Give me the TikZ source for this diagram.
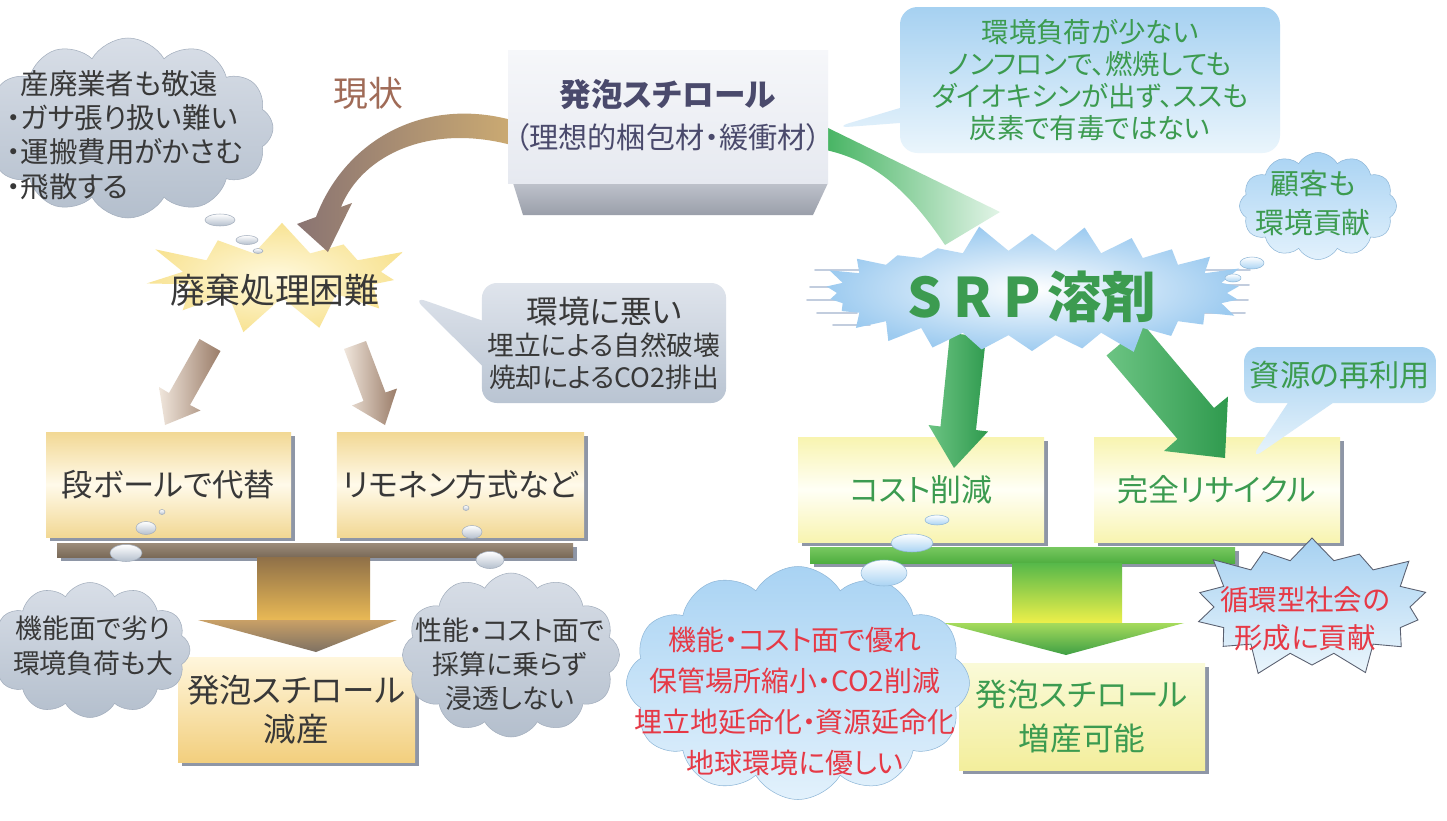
\documentclass[tikz,border=0pt]{standalone}
\usepackage{fontspec}
\setmainfont{Noto Sans CJK JP}[RawFeature=+palt]
\usetikzlibrary{shapes.symbols,shapes.callouts,shadows}

\definecolor{txtgray}{HTML}{383838}
\definecolor{txtbrown}{HTML}{A06B57}
\definecolor{txtslate}{HTML}{4A4A6C}
\definecolor{txtgreen}{HTML}{3C9B50}
\definecolor{txtred}{HTML}{E63946}
\definecolor{boxshadow}{HTML}{8E96A6}
\definecolor{goldA}{HTML}{F2D894}
\definecolor{goldB}{HTML}{FFFAEA}
\definecolor{paleA}{HTML}{F8F4B0}
\definecolor{paleB}{HTML}{FFFFF6}
\definecolor{outA}{HTML}{FFF6DC}
\definecolor{outB}{HTML}{F2CF7E}
\definecolor{limeA}{HTML}{FAFAD8}
\definecolor{limeB}{HTML}{F3EE9C}
\definecolor{barbrownA}{HTML}{9C8C7A}
\definecolor{barbrownB}{HTML}{7A6A58}
\definecolor{stembrownA}{HTML}{8F7048}
\definecolor{stembrownB}{HTML}{E9B955}
\definecolor{headbrownA}{HTML}{C9A066}
\definecolor{headbrownB}{HTML}{7E7163}
\definecolor{bargreenA}{HTML}{78C860}
\definecolor{bargreenB}{HTML}{4FAE40}
\definecolor{stemgreenA}{HTML}{56B84A}
\definecolor{stemgreenB}{HTML}{EEF04A}
\definecolor{headgreenA}{HTML}{A6DB5C}
\definecolor{headgreenB}{HTML}{3E9F44}
\definecolor{cloudgrayA}{HTML}{D8DEE7}
\definecolor{cloudgrayB}{HTML}{B4BFCD}
\definecolor{cloudgrayE}{HTML}{A3AEBD}
\definecolor{cloudblueA}{HTML}{A9D3F3}
\definecolor{cloudblueB}{HTML}{E2F1FC}
\definecolor{cloudblueE}{HTML}{8FB7D8}
\definecolor{callgrayA}{HTML}{DFE4EC}
\definecolor{callgrayB}{HTML}{B9C4D2}
\definecolor{callblueA}{HTML}{A6D1F1}
\definecolor{callblueB}{HTML}{EAF5FC}
\definecolor{staryellowA}{HTML}{FFF9DE}
\definecolor{staryellowB}{HTML}{F8E394}
\definecolor{starblueB}{HTML}{9DCBF0}
\definecolor{streakblue}{HTML}{C2CDDE}
\definecolor{staredge}{HTML}{5A6070}
\definecolor{faceA}{HTML}{F6F7FA}
\definecolor{faceB}{HTML}{E6E9F0}
\definecolor{sideA}{HTML}{BEC2CB}
\definecolor{sideB}{HTML}{9A9FAA}
\definecolor{curvebrownA}{HTML}{8A7472}
\definecolor{curvebrownB}{HTML}{CCAB72}
\definecolor{curvegreenA}{HTML}{47B463}
\definecolor{curvegreenB}{HTML}{E2F4E7}
\definecolor{arrbrownA}{HTML}{F0E6DC}
\definecolor{arrbrownB}{HTML}{9A7C68}
\definecolor{arrgreenA}{HTML}{6CC483}
\definecolor{arrgreenB}{HTML}{2F9A4E}

\tikzset{
  shadowed/.style={drop shadow={shadow xshift=0.07cm, shadow yshift=-0.07cm, fill=boxshadow, opacity=1}},
  goldbox/.style={rectangle, minimum width=4.9cm, minimum height=2.1cm, top color=goldA, bottom color=goldA, middle color=goldB, shadowed, text=txtgray, font=\fontsize{17.8pt}{21pt}\selectfont},
  palebox/.style={rectangle, minimum width=4.92cm, minimum height=2.1cm, top color=paleA, bottom color=paleA, middle color=paleB, shadowed, text=txtgreen, font=\fontsize{17.6pt}{21pt}\selectfont},
  graycloud/.style={cloud, cloud puffs=12, cloud puff arc=120, cloud ignores aspect, top color=cloudgrayA, bottom color=cloudgrayB, draw=cloudgrayE, line width=0.3pt},
  bluecloud/.style={cloud, cloud puffs=12, cloud puff arc=120, cloud ignores aspect, top color=cloudblueA, bottom color=cloudblueB, draw=cloudblueE, line width=0.3pt},
  graybubble/.style={top color=white, bottom color=cloudgrayB, draw=cloudgrayE, line width=0.3pt},
  bluebubble/.style={top color=white, bottom color=cloudblueA, draw=cloudblueE, line width=0.3pt},
  streak/.style={draw=streakblue, line width=1.1pt, line cap=round}
}

\begin{document}
\begin{tikzpicture}
% Frame:
\useasboundingbox (0,0) rectangle (28.94,-16.42);
\fill[white] (0,0) rectangle (28.94,-16.42);

% Left side, arrows under the star:
\shade[left color=arrbrownA, right color=arrbrownB] (4.41,-7.02) -- (3.8,-8.1) -- (4.01,-8.21) -- (3.3,-8.5) -- (3.18,-7.74) -- (3.38,-7.86) -- (3.99,-6.78) -- cycle;
\shade[left color=arrbrownA, right color=arrbrownB] (7.32,-6.82) -- (7.71,-7.85) -- (7.94,-7.77) -- (7.7,-8.5) -- (7.04,-8.11) -- (7.27,-8.02) -- (6.88,-6.98) -- cycle;
\node[starburst, starburst points=11, starburst point height=0.9cm, random starburst=41, minimum width=5.8cm, minimum height=2.7cm, inner color=staryellowA, outer color=staryellowB] (hardstar) at (5.64,-5.5) {};

% Curved arrows out of the block:
\shade[left color=curvebrownA, right color=curvebrownB] (10.3,-2.42) .. controls (8.5,-1.9) and (6.9,-2.8) .. (6.32,-4.34) -- (5.94,-4.48) -- (6.56,-5.04) -- (7.04,-4.06) -- (6.82,-4.14) .. controls (7.24,-3.1) and (8.6,-2.44) .. (10.3,-2.92) -- cycle;
\shade[left color=curvegreenA, right color=curvegreenB] (16.52,-2.54) -- (20.0,-4.24) -- (18.9,-4.9) .. controls (18.1,-3.7) and (17.4,-3.2) .. (16.52,-3.0) -- cycle;

% The block:
\shade[top color=sideA, bottom color=sideB] (10.26,-3.66) -- (16.56,-3.66) -- (16.26,-4.3) -- (10.46,-4.3) -- cycle;
\node[rectangle, minimum width=6.4cm, minimum height=2.66cm, top color=faceA, bottom color=faceB] (block) at (13.36,-2.33) {};
\node[text=txtslate, font=\bfseries\fontsize{18pt}{21pt}\selectfont] (blocktitle) at (13.36,-1.9) {発泡スチロール};
\node[text=txtslate, font=\fontsize{16.6pt}{19pt}\selectfont] (blocksub) at (13.36,-2.74) {（理想的梱包材・緩衝材）};
\node[text=txtbrown, font=\fontsize{19.8pt}{23pt}\selectfont] (now) at (7.36,-1.86) {現状};

% Left boxes and T arrow:
\node[goldbox] (cardboard) at (3.37,-9.69) {段ボールで代替};
\node[goldbox] (limonene) at (9.21,-9.69) {リモネン方式など};
\shade[shadowed, top color=barbrownA, bottom color=barbrownB] (1.14,-10.86) rectangle (11.46,-11.14);
\shade[top color=stembrownA, bottom color=stembrownB] (5.14,-11.14) rectangle (7.4,-12.4);
\shade[top color=headbrownA, bottom color=headbrownB] (3.96,-12.4) -- (7.94,-12.4) -- (6.32,-13.04) -- cycle;
\node[rectangle, minimum width=4.74cm, minimum height=2.1cm, top color=outA, bottom color=outB, shadowed, align=center, text=txtgray, font=\fontsize{18.5pt}{22pt}\selectfont] (reduce) at (5.93,-14.19) {発泡スチロール\\減産};

% Right boxes and T arrow:
\node[palebox] (cost) at (18.42,-9.79) {コスト削減};
\node[palebox] (recycle) at (24.34,-9.79) {完全リサイクル};
\shade[shadowed, top color=bargreenA, bottom color=bargreenB] (16.2,-10.94) rectangle (24.7,-11.26);
\shade[top color=stemgreenA, bottom color=stemgreenB] (20.24,-11.26) rectangle (22.44,-12.46);
\shade[top color=headgreenA, bottom color=headgreenB] (18.86,-12.46) -- (23.68,-12.46) -- (21.32,-13.1) -- cycle;
\node[rectangle, minimum width=4.92cm, minimum height=2.14cm, top color=limeA, bottom color=limeB, shadowed, align=center, text=txtgreen, font=\fontsize{18pt}{25pt}\selectfont] (increase) at (21.64,-14.33) {発泡スチロール\\増産可能};

% Green arrows under the solvent:
\shade[left color=arrgreenA, right color=arrgreenB] (19.72,-6.74) -- (19.52,-8.6) -- (19.76,-8.63) -- (19.08,-9.36) -- (18.57,-8.5) -- (18.81,-8.53) -- (19.0,-6.66) -- cycle;
\shade[left color=arrgreenA, right color=arrgreenB] (22.87,-6.49) -- (24.28,-8.16) -- (24.56,-7.93) -- (24.5,-9.16) -- (23.28,-9.02) -- (23.55,-8.78) -- (22.13,-7.11) -- cycle;
\draw[streak] (16.3,-5.4) -- (17.26,-5.4);
\draw[streak] (16.2,-5.74) -- (17.0,-5.74);
\draw[streak] (16.14,-6.0) -- (17.06,-6.0);
\draw[streak] (16.34,-6.26) -- (17.14,-6.26);
\draw[streak] (16.66,-6.5) -- (17.4,-6.5);
\draw[streak] (24.0,-5.4) -- (25.0,-5.4);
\draw[streak] (24.1,-5.7) -- (24.98,-5.7);
\draw[streak] (24.0,-6.0) -- (24.96,-6.0);
\draw[streak] (23.9,-6.26) -- (24.9,-6.26);
\node[starburst, starburst points=26, starburst point height=0.55cm, random starburst=5, minimum width=8.9cm, minimum height=2.8cm, inner color=white, outer color=starblueB] (srpstar) at (20.64,-5.86) {};
\node[starburst, starburst points=14, starburst point height=0.6cm, minimum width=5.12cm, minimum height=3.1cm, top color=callblueA, bottom color=callblueB, draw=staredge, line width=0.5pt] (cyclestar) at (26.24,-12.14) {};

% Callouts:
\node[rectangle callout, rounded corners=0.3cm, callout absolute pointer={(8.24,-5.92)}, callout pointer width=0.9cm, minimum width=4.84cm, minimum height=2.4cm, top color=callgrayA, bottom color=callgrayB, align=center, text=txtgray, font=\fontsize{15.2pt}{18.2pt}\selectfont] (badenv) at (12.08,-6.86) {{\fontsize{18pt}{20pt}\selectfont 環境に悪い}\\埋立による自然破壊\\焼却によるCO2排出};
\node[rectangle callout, rounded corners=0.35cm, callout absolute pointer={(16.66,-2.56)}, callout pointer width=0.3cm, minimum width=7.6cm, minimum height=2.92cm, top color=callblueA, bottom color=callblueB, align=center, text=txtgreen, font=\fontsize{15.6pt}{18.1pt}\selectfont] (lowload) at (21.8,-1.6) {環境負荷が少ない\\ノンフロンで、燃焼しても\\ダイオキシンが出ず、ススも\\炭素で有毒ではない};
\node[rectangle callout, rounded corners=0.3cm, callout absolute pointer={(25.0,-9.2)}, callout pointer width=0.9cm, minimum width=3.8cm, minimum height=1.12cm, top color=callblueA, bottom color=callblueB, text=txtgreen, font=\fontsize{17.2pt}{20pt}\selectfont] (reuse) at (26.8,-7.5) {資源の再利用};

% Clouds and bubbles:
\node[graycloud, minimum width=5.8cm, minimum height=3.6cm] (contractor) at (2.56,-2.56) {};
\shade[graybubble] (4.4,-4.4) ellipse [x radius=0.3, y radius=0.12];
\shade[graybubble] (4.94,-4.8) ellipse [x radius=0.22, y radius=0.09];
\shade[graybubble] (5.16,-5.02) ellipse [x radius=0.1, y radius=0.05];
\node[graycloud, minimum width=4.0cm, minimum height=2.7cm] (inferior) at (1.8,-13.0) {};
\shade[graybubble] (3.24,-10.24) ellipse [x radius=0.06, y radius=0.05];
\shade[graybubble] (2.92,-10.56) ellipse [x radius=0.2, y radius=0.13];
\shade[graybubble] (2.52,-11.06) ellipse [x radius=0.32, y radius=0.17];
\node[graycloud, minimum width=4.34cm, minimum height=3.28cm] (unprofitable) at (10.22,-13.1) {};
\shade[graybubble] (9.32,-10.16) ellipse [x radius=0.06, y radius=0.05];
\shade[graybubble] (9.44,-10.64) ellipse [x radius=0.2, y radius=0.13];
\shade[graybubble] (9.8,-11.2) ellipse [x radius=0.28, y radius=0.17];
\node[bluecloud, minimum width=3.14cm, minimum height=2.14cm] (customer) at (26.36,-4.12) {};
\shade[bluebubble] (25.04,-5.26) ellipse [x radius=0.24, y radius=0.12];
\shade[bluebubble] (24.66,-5.56) ellipse [x radius=0.16, y radius=0.08];
\node[bluecloud, minimum width=6.86cm, minimum height=4.66cm] (merits) at (15.96,-13.66) {};
\shade[bluebubble] (18.74,-10.4) ellipse [x radius=0.24, y radius=0.1];
\shade[bluebubble] (18.24,-10.86) ellipse [x radius=0.42, y radius=0.18];
\shade[bluebubble] (17.68,-11.46) ellipse [x radius=0.46, y radius=0.26];

% Texts:
\node[anchor=west, inner sep=0pt, align=left, text=txtgray, font=\fontsize{16.2pt}{19.6pt}\selectfont] (contractortext) at (0.12,-2.7) {\phantom{・}産廃業者も敬遠\\・ガサ張り扱い難い\\・運搬費用がかさむ\\・飛散する};
\node[text=txtgray, font=\fontsize{19.8pt}{23pt}\selectfont] (hardtext) at (5.5,-5.8) {廃棄処理困難};
\node[align=center, text=txtgray, font=\fontsize{15.3pt}{19.8pt}\selectfont] (inferiortext) at (1.86,-12.91) {機能面で劣り\\環境負荷も大};
\node[align=center, text=txtgray, font=\fontsize{15.3pt}{19.3pt}\selectfont] (unprofitabletext) at (10.2,-13.28) {性能・コスト面で\\採算に乗らず\\浸透しない};
\node[align=center, text=txtgreen, font=\fontsize{16.4pt}{22pt}\selectfont] (customertext) at (26.26,-4.06) {顧客も\\環境貢献};
\node[text=txtgreen, font=\bfseries\fontsize{31pt}{36pt}\selectfont] (srptext) at (20.64,-5.94) {S\hspace{0.2em}R\hspace{0.2em}P\hspace{0.12em}溶剤};
\node[align=center, text=txtred, font=\fontsize{16.2pt}{21.5pt}\selectfont] (cycletext) at (26.1,-12.38) {循環型社会の\\形成に貢献};
\node[align=center, text=txtred, font=\fontsize{15.9pt}{23.2pt}\selectfont] (meritstext) at (15.9,-14.03) {機能・コスト面で優れ\\保管場所縮小・CO2削減\\埋立地延命化・資源延命化\\地球環境に優しい};
\end{tikzpicture}
\end{document}
